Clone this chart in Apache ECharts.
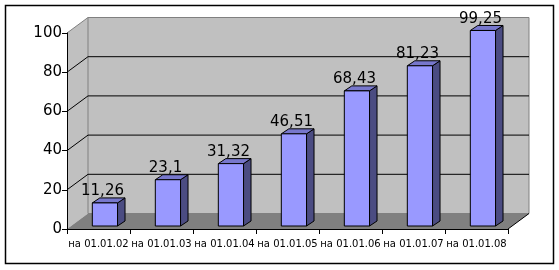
<!DOCTYPE html>
<html>
<head>
<meta charset="utf-8">
<script src="https://cdn.jsdelivr.net/npm/echarts@6/dist/echarts.min.js"></script>
<style>
html,body{margin:0;padding:0;background:#fff;}
#c{width:559px;height:270px;}
</style>
</head>
<body>
<div id="c"></div>
<script>
const categories = ['на 01.01.02','на 01.01.03','на 01.01.04','на 01.01.05','на 01.01.06','на 01.01.07','на 01.01.08'];
const values = [11.26, 23.1, 31.32, 46.51, 68.43, 81.23, 99.25];
const yTicks = [0, 20, 40, 60, 80, 100];

const FONT = '"DejaVu Sans", Verdana, sans-serif';
const WDX = 21, WDY = -15.5;     // wall depth
const BDX = 7.5, BDY = -5;       // bar depth
const BAR_SHIFT = 0.102, BAR_W = 0.4, BAR_DY = -3;

const chart = echarts.init(document.getElementById('c'), null, {renderer:'canvas'});

function renderWalls(params, api) {
  const cs = params.coordSys;
  const x = cs.x, y = cs.y, w = cs.width, h = cs.height;
  return {type:'group', children:[
    {type:'polygon', shape:{points:[[x,y+h],[x,y],[x+WDX,y+WDY],[x+WDX,y+h+WDY]]}, style:{fill:'#C0C0C0'}},
    {type:'rect', shape:{x:x+WDX, y:y+WDY, width:w, height:h}, style:{fill:'#C0C0C0', stroke:'#808080', lineWidth:1}},
    {type:'polygon', shape:{points:[[x,y+h],[x+w,y+h],[x+w+WDX,y+h+WDY],[x+WDX,y+h+WDY]]}, style:{fill:'#808080'}},
    {type:'line', shape:{x1:x, y1:y, x2:x+WDX, y2:y+WDY}, style:{stroke:'#808080', lineWidth:1}},
    {type:'line', shape:{x1:x+w, y1:y+h, x2:x+w+WDX, y2:y+h+WDY}, style:{stroke:'#000', lineWidth:1}}
  ]};
}

function renderGrid(params, api) {
  const cs = params.coordSys;
  const t = api.value(0);
  if (t <= 0 || t >= 100) return {type:'group', children:[]};
  const p = api.coord([0, t]);
  const x = cs.x, w = cs.width, yy = p[1];
  return {type:'group', children:[
    {type:'line', shape:{x1:x+WDX, y1:yy+WDY, x2:x+w+WDX, y2:yy+WDY}, style:{stroke:'#000', lineWidth:1}},
    {type:'line', shape:{x1:x, y1:yy, x2:x+WDX, y2:yy+WDY}, style:{stroke:'#000', lineWidth:1}}
  ]};
}

function renderBar(params, api) {
  const i = api.value(0), v = api.value(1);
  const base = api.coord([i, 0]);
  const top = api.coord([i, v]);
  const cw = api.size([1, 0])[0];
  const cx = base[0] + cw * BAR_SHIFT;
  const bw = cw * BAR_W;
  const x0 = cx - bw / 2, x1 = cx + bw / 2;
  const yb = base[1] + BAR_DY, yt = top[1] + BAR_DY - 1;
  const label = String(v).replace('.', ',');
  return {type:'group', children:[
    {type:'polygon', shape:{points:[[x1,yb],[x1+BDX,yb+BDY],[x1+BDX,yt+BDY],[x1,yt]]}, style:{fill:'#4B4C82', stroke:'#000', lineWidth:1}},
    {type:'polygon', shape:{points:[[x0,yt],[x1,yt],[x1+BDX,yt+BDY],[x0+BDX,yt+BDY]]}, style:{fill:'#7777CC', stroke:'#000', lineWidth:1}},
    {type:'rect', shape:{x:x0, y:yt, width:bw, height:yb-yt}, style:{fill:'#9999FF', stroke:'#000', lineWidth:1}},
    {type:'text', style:{text:label, x:base[0] + 4, y:yt + BDY + 1, align:'center', verticalAlign:'bottom', font:'15px ' + FONT, fill:'#000'}}
  ]};
}

chart.setOption({
  animation:false,
  backgroundColor:'#fff',
  grid:{left:67, right:51, top:33, bottom:41, containLabel:false},
  xAxis:{
    type:'category', data:categories, z:10,
    axisLine:{show:true, lineStyle:{color:'#000', width:1}},
    axisTick:{show:true, length:5, lineStyle:{color:'#000'}},
    axisLabel:{fontSize:10, fontFamily:FONT, color:'#000', margin:10, interval:0},
    splitLine:{show:false}
  },
  yAxis:{
    type:'value', min:0, max:100, interval:20, z:10,
    axisLine:{show:true, lineStyle:{color:'#000', width:1}},
    axisTick:{show:true, length:5, lineStyle:{color:'#000'}},
    axisLabel:{fontSize:15, fontFamily:FONT, color:'#000', margin:5},
    splitLine:{show:false}
  },
  graphic:[
    {type:'rect', shape:{x:5.5, y:5.5, width:548, height:258}, style:{fill:null, stroke:'#000', lineWidth:1.5}, z:100}
  ],
  series:[
    {type:'custom', z:1, renderItem:renderWalls, data:[[0]], silent:true},
    {type:'custom', z:2, renderItem:renderGrid, data:yTicks.map(t=>[t]), silent:true},
    {type:'custom', z:3, renderItem:renderBar, data:values.map((v,i)=>[i,v]), silent:true}
  ]
});
</script>
</body>
</html>
